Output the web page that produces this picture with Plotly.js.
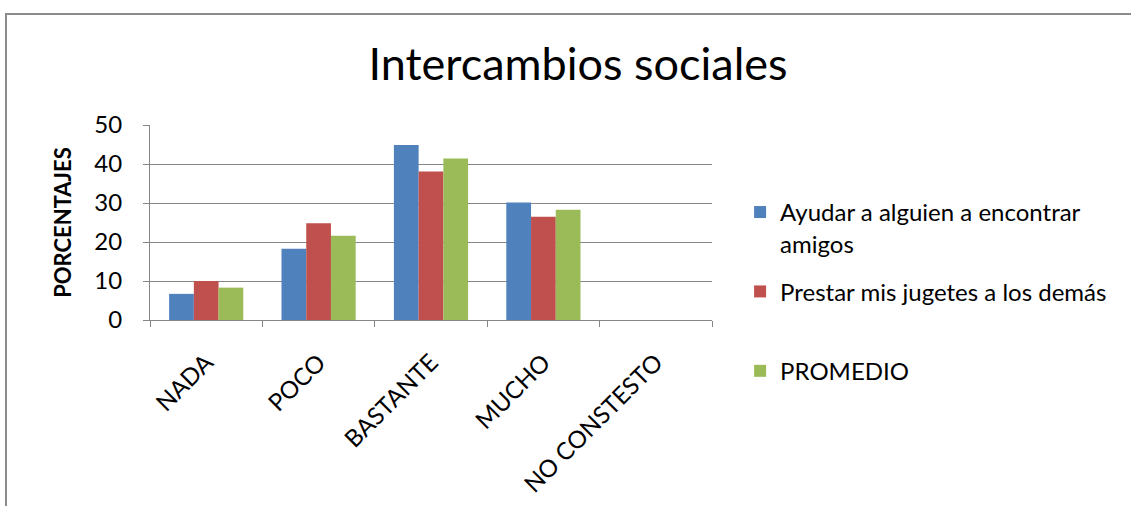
<!DOCTYPE html>
<html>
<head>
<meta charset="utf-8">
<script src="https://cdn.plot.ly/plotly-3.0.1.min.js"></script>
<style>
  html, body { margin: 0; padding: 0; background: #ffffff; }
  #frame { position: absolute; left: 5px; top: 13px; width: 1124px; height: 491px;
           border-left: 2px solid #8c8c8c; border-top: 2px solid #8c8c8c; }
  #chart { width: 1124px; height: 491px; }
</style>
</head>
<body>
<div id="frame"><div id="chart"></div></div>
<script>
const categories = ["NADA", "POCO", "BASTANTE", "MUCHO", "NO CONSTESTO"];
const ayudar = [6.7, 18.3, 44.9, 30.1, null];
const prestar = [10, 24.8, 38.1, 26.5, null];
const promedio = [8.3, 21.6, 41.4, 28.3, null];
const seriesNames = ["Ayudar a alguien a encontrar<br>amigos", "Prestar mis jugetes a los demás<br> ", "PROMEDIO"];
const yTicks = [0, 10, 20, 30, 40, 50];

const FONT = "Lato, 'Open Sans', sans-serif";
const colors = ["#4F81BD", "#C0504D", "#9BBB59"];
const data = [ayudar, prestar, promedio].map((vals, i) => ({
  type: "bar", x: categories, y: vals, name: seriesNames[i],
  marker: { color: colors[i] }, legendgroup: "g" + i
}));

const layout = {
  width: 1124, height: 491,
  margin: { l: 143, r: 419, t: 110, b: 186 },
  paper_bgcolor: "#ffffff", plot_bgcolor: "#ffffff",
  font: { family: FONT, color: "#000000" },
  title: { text: "Intercambios sociales", font: { family: FONT, size: 45, color: "#000" },
           x: 0.508, xref: "container", xanchor: "center", y: 0.9, yref: "container", yanchor: "middle" },
  barmode: "group", bargap: 0.34, bargroupgap: 0,
  xaxis: { type: "category", showline: true, linecolor: "#868686", linewidth: 1,
           ticks: "outside", tickson: "boundaries", ticklen: 6, tickcolor: "#868686",
           tickangle: -45, tickfont: { size: 24, family: FONT }, showgrid: false,
           ticklabelstandoff: 18 },
  yaxis: { range: [0, 50], tickvals: yTicks, showline: true, linecolor: "#868686", linewidth: 1,
           ticks: "outside", ticklen: 6, tickcolor: "#868686", showgrid: true, gridcolor: "#868686",
           tickfont: { size: 24, family: FONT }, zeroline: false, ticklabelstandoff: 16,
           title: { text: "<b>PORCENTAJES</b>", font: { size: 22, family: FONT }, standoff: 16 } },
  legend: { x: 1.05, xanchor: "left", y: 0.667, yanchor: "top", valign: "top",
            font: { size: 24, family: FONT }, traceorder: "grouped", tracegroupgap: 14,
            bgcolor: "rgba(0,0,0,0)" },
  showlegend: true
};
Plotly.newPlot("chart", data, layout, { displayModeBar: false, staticPlot: true });
</script>
</body>
</html>
